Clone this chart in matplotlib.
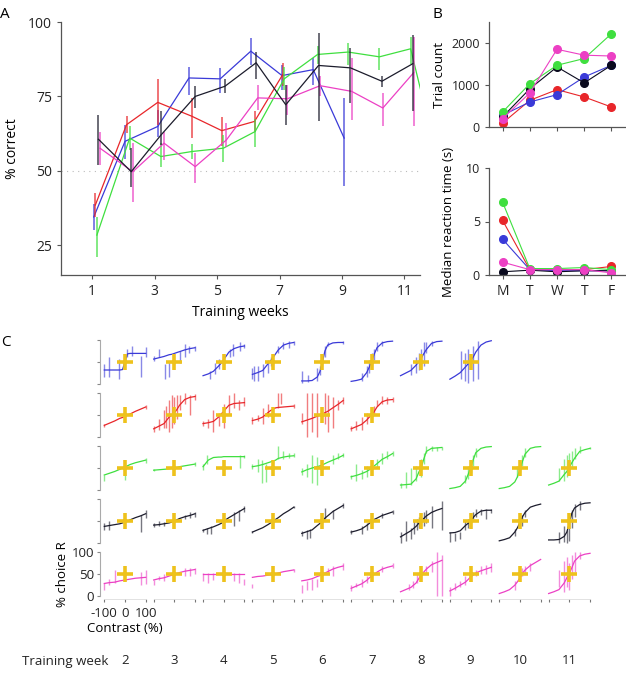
import matplotlib.pyplot as plt

plt.rcParams['font.family'] = ['Open Sans', 'DejaVu Sans']
plt.rcParams['axes.unicode_minus'] = False

# colours per mouse
BLUE = '#3a3ad8'
RED = '#e8262a'
GREEN = '#3fdf3f'
BLACK = '#1c1c2c'
MAGENTA = '#ec40c4'
GOLD = '#eec21c'

# ---- panel A : % correct per training week (x carries the small offset seen in the plot)
blue_x = [1.05, 2.05, 3.1, 4.1, 5.1, 6.08, 7.08, 8.08, 9.07]
blue_y = [34.5, 59.9, 64.9, 81.2, 80.9, 90.2, 82.0, 84.0, 61.0]
blue_lo = [30, 54, 61.5, 75.6, 76, 85.7, 77.3, 79, 45]
blue_hi = [39, 65.5, 70.5, 85, 84.6, 94.7, 85.7, 88, 74.5]

black_x = [1.2, 2.25, 3.2, 4.3, 5.25, 6.25, 7.2, 8.25, 9.27, 10.28, 11.27]
black_y = [60.6, 49.7, 62, 75, 78.4, 86.3, 72.2, 85.4, 84.6, 80.1, 86]
black_lo = [52, 44.7, 58.7, 71, 76, 81, 65.5, 66.6, 72.8, 78, 70]
black_hi = [68.8, 57.6, 70, 78.4, 81, 90, 79, 96.4, 91.4, 82, 95.8]

red_x = [1.1, 2.1, 3.1, 4.2, 5.15, 6.2, 7.1]
red_y = [38.5, 65.5, 73, 68.3, 63.5, 66.6, 82.3]
red_lo = [34.5, 62.7, 65.5, 61, 58.4, 63, 78.4]
red_hi = [42.4, 68.3, 80.7, 74.5, 68, 70, 86.3]

green_x = [1.15, 2.2, 3.2, 4.2, 5.2, 6.22, 7.15, 8.22, 9.2, 10.2, 11.2, 12.2]
green_y = [28.4, 61, 54.8, 56.5, 57.6, 63.2, 80.9, 89.1, 89.9, 88.3, 91, 48]
green_lo = [21, 57, 51.4, 54, 53, 58, 77, 86, 85.7, 84, 86, 44]
green_hi = [34.5, 65, 59.3, 59, 62, 67.5, 85, 92, 93, 91.3, 95, 52]

magenta_x = [1.25, 2.3, 3.3, 4.3, 5.3, 6.3, 7.25, 8.3, 9.31, 10.31, 11.3]
magenta_y = [57.6, 49.7, 59.3, 51.4, 60.4, 74.5, 74.2, 78.6, 76.7, 71.1, 83]
magenta_lo = [52, 39.6, 53.6, 46, 58, 70.5, 68.8, 75, 67.2, 65, 65]
magenta_hi = [63.2, 59.3, 63, 56, 66, 79, 79, 82, 88, 76.2, 95]

# ---- panel B : first training week, per day
days = ['M', 'T', 'W', 'T', 'F']
trials_red = [95, 635, 890, 715, 476]
trials_blue = [280, 595, 770, 1190, 1470]
trials_black = [240, 910, 1430, 1050, 1470]
trials_green = [357, 1030, 1470, 1630, 2220]
trials_magenta = [200, 810, 1850, 1710, 1690]

rt_red = [5.1, 0.5, 0.5, 0.5, 0.8]
rt_blue = [3.35, 0.5, 0.4, 0.4, 0.4]
rt_black = [0.3, 0.45, 0.3, 0.4, 0.4]
rt_green = [6.8, 0.6, 0.6, 0.7, 0.5]
rt_magenta = [1.2, 0.5, 0.5, 0.5, 0.2]

# ---- panel C : psychometric curves, % choice R vs contrast, weeks 2..11
train_weeks = [2, 3, 4, 5, 6, 7, 8, 9, 10, 11]
contrasts = [-100, -75, -50, -25, -12, 0, 12, 25, 50, 75, 100]

blue_curves = [
    [31, 31, 31, 31, 32, 50, 68, 69, 69, 69, 69],
    [56, 59, 62, 66, 67, 69, 71, 73, 77, 80, 82],
    [18, 22, 28, 40, 47, 55, 63, 72, 80, 84, 86],
    [21, 25, 30, 45, 52, 60, 68, 77, 88, 92, 94],
    [6, 6, 7, 15, 28, 50, 75, 88, 93, 94, 94],
    [5, 7, 10, 25, 38, 52, 68, 82, 93, 96, 97],
    [18, 24, 30, 42, 50, 58, 68, 78, 92, 96, 97],
    [10, 17, 25, 38, 45, 52, 60, 72, 88, 95, 98],
]
blue_err = [
    [(-100, 14, 44), (-75, 14, 60), (-30, 10, 56), (12, 60, 79), (32, 63, 86), (76, 14, 63), (100, 60, 84)],
    [(-100, 52, 63), (-76, 60, 79), (-44, 10, 44), (-27, 14, 52), (29, 48, 75), (50, 60, 90), (72, 71, 86), (100, 75, 86)],
    [(-68, 10, 29), (-44, 21, 48), (-24, 33, 56), (29, 60, 79), (45, 63, 90), (77, 75, 94), (100, 82, 90)],
    [(-100, 10, 35), (-90, 5, 40), (-75, 5, 40), (-50, 15, 45), (-25, 25, 55), (-12, 40, 60), (25, 70, 85), (50, 80, 95), (75, 82, 97), (100, 88, 97)],
    [(-100, 2, 28), (-70, 3, 20), (-25, 5, 35), (-12, 20, 40), (0, 40, 60), (12, 60, 85), (25, 85, 95), (100, 90, 98)],
    [(-50, 5, 25), (-25, 15, 40), (-12, 25, 55), (0, 40, 70), (12, 55, 80), (25, 75, 95), (50, 85, 98)],
    [(-50, 20, 45), (-25, 25, 60), (-12, 30, 70), (0, 35, 80), (12, 40, 95), (25, 70, 95), (50, 85, 98)],
    [(-44, 10, 75), (-27, 6, 71), (-11, 2, 79), (13, 6, 86), (37, 10, 98)],
]

red_curves = [
    [26, 31, 36, 42, 44, 47, 50, 52, 58, 63, 68],
    [18, 24, 30, 45, 50, 55, 62, 72, 85, 90, 92],
    [30, 32, 35, 45, 52, 58, 65, 72, 76, 77, 78],
    [37, 40, 45, 55, 60, 63, 66, 67, 68, 69, 70],
    [34, 38, 42, 47, 49, 52, 55, 58, 66, 74, 83],
    [18, 23, 28, 38, 45, 50, 58, 68, 80, 84, 85],
]
red_err = [
    [(-100, 22, 30), (100, 64, 72)],
    [(-100, 10, 25), (-75, 15, 40), (-50, 20, 60), (-40, 20, 70), (-25, 10, 85), (-12, 20, 95), (0, 30, 90), (12, 40, 95), (25, 60, 95), (50, 75, 100), (75, 50, 95), (100, 85, 98)],
    [(-100, 25, 35), (-75, 20, 40), (-50, 10, 60), (-25, 25, 55), (0, 20, 75), (25, 50, 95), (50, 65, 100), (75, 60, 85), (100, 70, 90)],
    [(-100, 30, 45), (-75, 35, 50), (-50, 30, 65), (-25, 45, 75), (25, 65, 100), (40, 75, 100), (100, 65, 75)],
    [(-100, 30, 55), (-75, 0, 100), (-50, 10, 100), (-25, 0, 100), (12, 30, 100), (25, 10, 95), (50, 20, 90), (75, 60, 85), (100, 75, 90)],
    [(-100, 12, 25), (-75, 15, 35), (-50, 15, 45), (-25, 30, 55), (12, 50, 70), (25, 70, 85), (50, 75, 92), (75, 75, 90), (100, 80, 90)],
]

green_curves = [
    [34, 38, 42, 47, 50, 53, 55, 58, 62, 65, 68],
    [45, 46, 47, 48, 49, 50, 51, 53, 55, 57, 59],
    [53, 68, 74, 75, 75, 76, 76, 76, 76, 76, 76],
    [53, 55, 58, 62, 64, 66, 68, 72, 75, 77, 78],
    [41, 46, 50, 53, 55, 57, 60, 63, 68, 73, 79],
    [30, 33, 37, 42, 46, 50, 55, 60, 70, 76, 83],
    [11, 12, 13, 25, 40, 52, 70, 88, 95, 96, 97],
    [3, 5, 8, 20, 35, 50, 68, 85, 95, 98, 99],
    [3, 5, 8, 18, 30, 48, 65, 82, 95, 98, 99],
    [11, 15, 20, 35, 42, 52, 62, 72, 88, 92, 95],
]
green_err = [
    [(-100, 20, 35), (0, 22, 53), (100, 62, 72)],
    [(-100, 42, 48), (100, 55, 63)],
    [(-100, 45, 60), (-80, 60, 80), (80, 50, 80), (100, 72, 80)],
    [(-100, 48, 60), (-75, 40, 70), (-56, 15, 68), (-32, 18, 60), (25, 70, 100), (50, 70, 90), (75, 72, 85), (100, 75, 85)],
    [(-100, 35, 50), (-75, 30, 60), (-50, 15, 80), (-25, 10, 75), (50, 60, 80), (75, 70, 85), (100, 75, 85)],
    [(-100, 25, 35), (-75, 20, 60), (-50, 25, 45), (-25, 30, 55), (25, 50, 70), (50, 60, 85), (75, 70, 90), (100, 78, 88)],
    [(-100, 5, 15), (-75, 5, 40), (-50, 10, 50), (-25, 20, 55), (0, 30, 70), (12, 60, 85), (25, 85, 100), (50, 88, 100), (75, 90, 98), (100, 92, 98)],
    [(-25, 15, 35), (-12, 25, 55), (0, 40, 65), (12, 55, 80), (25, 75, 95)],
    [(-12, 30, 55), (0, 40, 65), (12, 55, 80), (25, 75, 95)],
    [(-50, 20, 50), (-25, 20, 70), (-12, 30, 80), (0, 40, 85), (12, 50, 90), (25, 70, 95), (50, 85, 100), (100, 93, 97)],
]

black_curves = [
    [38, 40, 42, 44, 46, 48, 50, 53, 58, 62, 67],
    [41, 42, 44, 46, 48, 50, 53, 56, 60, 63, 67],
    [29, 33, 37, 42, 45, 50, 54, 58, 65, 72, 79],
    [25, 30, 35, 42, 46, 50, 54, 58, 67, 74, 82],
    [22, 26, 30, 40, 45, 50, 57, 62, 72, 79, 86],
    [25, 28, 32, 40, 45, 50, 54, 57, 63, 67, 71],
    [14, 21, 28, 38, 45, 50, 56, 62, 70, 75, 79],
    [23, 24, 28, 40, 45, 50, 58, 65, 73, 75, 75],
    [5, 8, 12, 25, 35, 47, 60, 70, 82, 86, 89],
    [7, 7, 8, 15, 25, 45, 68, 80, 88, 91, 92],
]
black_err = [
    [(-100, 30, 45), (-75, 30, 50), (75, 25, 64), (100, 58, 75)],
    [(-100, 36, 46), (-75, 38, 50), (-50, 40, 48), (50, 55, 65), (75, 58, 70), (100, 60, 72)],
    [(-100, 25, 33), (-80, 20, 35), (-60, 20, 40), (50, 40, 70), (75, 50, 75), (100, 70, 85)],
    [(-100, 22, 28), (100, 79, 85)],
    [(-100, 15, 28), (-75, 10, 30), (-60, 12, 32), (12, 55, 80), (50, 55, 75), (100, 80, 92)],
    [(-100, 20, 30), (-50, 20, 40), (-25, 30, 45), (50, 58, 68), (100, 66, 76)],
    [(-100, 0, 25), (-75, 5, 50), (-50, 10, 35), (-35, 20, 50), (-20, 30, 55), (-10, 35, 60), (12, 40, 70), (25, 45, 75), (50, 35, 85), (100, 30, 95)],
    [(-100, 2, 25), (-75, 5, 22), (-50, 10, 25), (-25, 30, 50), (-12, 35, 55), (12, 55, 70), (25, 60, 78), (50, 65, 78), (75, 55, 78), (100, 68, 78)],
    [(-25, 15, 32), (12, 40, 65), (25, 60, 75)],
    [(-50, 0, 25), (-25, 2, 40), (-12, 0, 30), (0, 5, 55), (12, 35, 75), (25, 60, 90), (50, 75, 95)],
]

magenta_curves = [
    [29, 31, 32, 35, 36, 37, 38, 39, 41, 42, 43],
    [37, 40, 42, 46, 48, 50, 52, 54, 57, 59, 61],
    [50, 50, 50, 50, 50, 50, 50, 50, 50, 50, 50],
    [43, 45, 46, 48, 49, 50, 51, 53, 56, 58, 60],
    [35, 37, 40, 45, 47, 50, 53, 56, 62, 66, 69],
    [18, 23, 28, 36, 42, 46, 50, 55, 62, 66, 69],
    [10, 15, 20, 30, 40, 48, 55, 62, 72, 77, 82],
    [12, 18, 25, 32, 38, 44, 48, 53, 58, 62, 66],
    [6, 10, 15, 25, 33, 42, 52, 60, 70, 77, 84],
    [6, 10, 15, 30, 42, 52, 65, 80, 92, 96, 98],
]
magenta_err = [
    [(-100, 15, 30), (-75, 25, 40), (-50, 30, 60), (75, 25, 55), (100, 28, 60)],
    [(-100, 25, 37), (-75, 38, 45), (-50, 35, 50), (50, 45, 65), (75, 45, 65), (100, 50, 65)],
    [(-100, 35, 52), (-75, 30, 52), (-50, 38, 52), (50, 35, 52), (75, 30, 52), (100, 25, 40)],
    [(-100, 18, 28), (100, 55, 62)],
    [(-100, 8, 25), (-75, 15, 35), (-50, 15, 40), (-25, 20, 40), (25, 50, 65), (50, 45, 70), (100, 60, 75)],
    [(-100, 12, 25), (-75, 20, 30), (-50, 20, 40), (-25, 30, 45), (50, 55, 70), (100, 65, 75)],
    [(-60, 15, 28), (-40, 18, 35), (-20, 30, 50), (0, 40, 60), (25, 50, 70), (50, 55, 80), (75, 0, 100), (100, 0, 95)],
    [(-100, 0, 20), (-75, 15, 30), (-50, 20, 35), (-25, 25, 45), (0, 35, 55), (25, 45, 60), (50, 50, 68), (75, 50, 72), (100, 55, 75)],
    [(-25, 15, 35), (12, 45, 65), (25, 50, 70), (50, 58, 75)],
    [(-50, 20, 60), (-25, 10, 80), (-12, 20, 90), (0, 15, 75), (12, 40, 95), (25, 55, 100), (50, 85, 100)],
]

W, H = 626, 681
fig = plt.figure(figsize=(W / 100, H / 100), dpi=100)


def px_axes(left, top, width, height):
    # axes placed in pixel units measured from the top-left corner
    return fig.add_axes([left / W, 1 - (top + height) / H, width / W, height / H])


def style_spines(ax):
    for s in ['top', 'right']:
        ax.spines[s].set_visible(False)
    for s in ['left', 'bottom']:
        ax.spines[s].set_color('#555555')
        ax.spines[s].set_linewidth(0.9)
    ax.tick_params(colors='#555555', labelcolor='#222222', width=0.8, length=3)


# ---------------- A
axA = px_axes(61, 22, 359, 253)
series_A = [
    (blue_x, blue_y, blue_lo, blue_hi, BLUE),
    (red_x, red_y, red_lo, red_hi, RED),
    (green_x, green_y, green_lo, green_hi, GREEN),
    (magenta_x, magenta_y, magenta_lo, magenta_hi, MAGENTA),
    (black_x, black_y, black_lo, black_hi, BLACK),
]
axA.axhline(50, color='#bbbbbb', lw=0.8, ls=(0, (1, 4)))
for xs, ys, lo, hi, col in series_A:
    axA.plot(xs, ys, color=col, lw=0.9)
    axA.vlines(xs, lo, hi, color=col, lw=1.3, alpha=0.7)
axA.set_xlim(0, 11.5)
axA.set_ylim(15, 100)
axA.set_xticks([1, 3, 5, 7, 9, 11])
axA.set_yticks([25, 50, 75, 100])
style_spines(axA)
axA.tick_params(labelsize=10)
axA.set_ylabel('% correct', fontsize=10, labelpad=6)
axA.set_xlabel('Training weeks', fontsize=10, labelpad=4)

# ---------------- B
series_B = [
    (trials_red, rt_red, RED),
    (trials_blue, rt_blue, BLUE),
    (trials_black, rt_black, '#0a0a1e'),
    (trials_green, rt_green, GREEN),
    (trials_magenta, rt_magenta, MAGENTA),
]
day_pos = range(1, len(days) + 1)
axB1 = px_axes(489, 22, 136, 105)
axB2 = px_axes(489, 168, 136, 107)
for trials, rt, col in series_B:
    axB1.plot(day_pos, trials, color=col, lw=0.8, marker='o', ms=5.5, mec=col)
    axB2.plot(day_pos, rt, color=col, lw=0.8, marker='o', ms=5.5, mec=col)
for ax in (axB1, axB2):
    ax.set_xlim(0.5, 5.5)
    ax.set_xticks(list(day_pos))
    style_spines(ax)
    ax.tick_params(labelsize=9)
axB1.set_ylim(0, 2500)
axB1.set_yticks([0, 1000, 2000])
axB1.set_xticklabels([])
axB1.set_ylabel('Trial count', fontsize=9.5, labelpad=4)
axB2.set_ylim(0, 10)
axB2.set_yticks([0, 5, 10])
axB2.set_xticklabels(days, fontsize=10)
axB2.set_ylabel('Median reaction time (s)', fontsize=9.5, labelpad=8)

# ---------------- C
rows_C = [
    (blue_curves, blue_err, BLUE),
    (red_curves, red_err, RED),
    (green_curves, green_err, GREEN),
    (black_curves, black_err, BLACK),
    (magenta_curves, magenta_err, MAGENTA),
]
col_step, row_step = 49.37, 53.15
sub_w, sub_h = 41.4, 43.7
for r, (curves, errs, col) in enumerate(rows_C):
    cy = 361.7 + r * row_step
    for k, (cv, eb) in enumerate(zip(curves, errs)):
        cx = 125 + k * col_step
        ax = px_axes(cx - sub_w / 2, cy - sub_h / 2, sub_w, sub_h)
        ax.set_xlim(-100, 100)
        ax.set_ylim(0, 100)
        ax.patch.set_alpha(0)
        for c, lo, hi in eb:
            ax.vlines(c, lo, hi, color=col, lw=1.0, alpha=0.6, clip_on=False)
        ax.plot(contrasts, cv, color=col, lw=0.9, clip_on=False)
        ax.plot(0, 50, marker='+', ms=11, mew=2.6, color=GOLD, clip_on=False)
        for s in ax.spines.values():
            s.set_visible(False)
        ax.set_xticks([])
        ax.set_yticks([])
        if k == 0:
            ax.spines['left'].set_visible(True)
            ax.spines['left'].set_position(('outward', 3))
            ax.spines['left'].set_color('#aaaaaa')
            ax.spines['left'].set_linewidth(0.8)
            ax.set_yticks([0, 50, 100])
            ax.tick_params(axis='y', colors='#888888', labelcolor='#222222',
                           length=2.5, width=0.8, labelsize=9.5, pad=2)
            if r < len(rows_C) - 1:
                ax.set_yticklabels([])
        if r == len(rows_C) - 1:
            ax.spines['bottom'].set_visible(True)
            ax.spines['bottom'].set_position(('outward', 2))
            ax.spines['bottom'].set_color('#dddddd')
            ax.spines['bottom'].set_linewidth(0.6)
            ax.set_xticks([-100, 0, 100])
            ax.tick_params(axis='x', colors='#777777', labelcolor='#222222',
                           length=2.5, width=0.8, labelsize=9.5, pad=3)
            if k == 0:
                ax.set_xticklabels(['-100', '0', '100'])
                ax.set_xlabel('Contrast (%)', fontsize=9.5, labelpad=2)
                ax.set_ylabel('% choice R', fontsize=9.5, labelpad=2)
            else:
                ax.set_xticklabels([])
        if r == len(rows_C) - 1:
            fig.text(cx / W, 1 - 661 / H, str(train_weeks[k]), ha='center',
                     va='center', fontsize=9.5, color='#222222')

fig.text(22 / W, 1 - 661 / H, 'Training week', ha='left', va='center',
         fontsize=9.5, color='#222222')

# panel letters
fig.text(0 / W, 1 - 15 / H, 'A', fontsize=11, ha='left', va='center')
fig.text(432 / W, 1 - 15 / H, 'B', fontsize=11, ha='left', va='center')
fig.text(1 / W, 1 - 343 / H, 'C', fontsize=11, ha='left', va='center')

fig.savefig('out.png', dpi=100)
